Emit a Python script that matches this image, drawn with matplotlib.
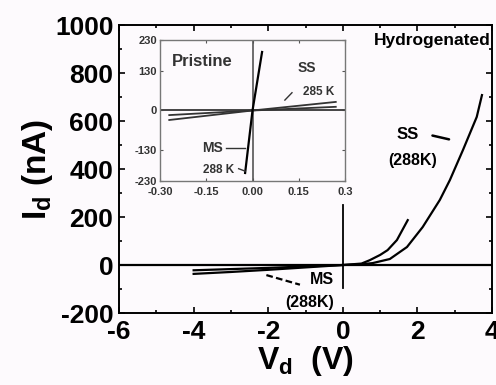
import matplotlib
matplotlib.use("Agg")
import matplotlib.pyplot as plt
from matplotlib.ticker import MultipleLocator, FixedLocator, FixedFormatter

plt.rcParams['font.family'] = ['Liberation Sans', 'DejaVu Sans']
plt.rcParams['font.weight'] = 'bold'
plt.rcParams['axes.unicode_minus'] = False
plt.rcParams['mathtext.fontset'] = 'custom'
plt.rcParams['mathtext.rm'] = 'Liberation Sans:bold'
plt.rcParams['mathtext.bf'] = 'Liberation Sans:bold'
plt.rcParams['mathtext.it'] = 'Liberation Sans:bold'

# ---- main panel data (hydrogenated) ----
ss_v = [-4.0, -3.0, -2.0, -1.0, 0.0, 0.5, 0.8, 1.26, 1.72, 2.14, 2.6, 2.87, 3.22, 3.59, 3.73]
ss_i = [-37, -29, -20, -10, 0, 3, 8, 25, 75, 158, 271, 354, 479, 617, 708]
ms_v = [-4.0, -3.0, -2.0, -1.0, 0.0, 0.5, 0.72, 1.0, 1.2, 1.45, 1.74]
ms_i = [-22, -17, -12, -6, 0, 6, 20, 42, 62, 104, 187]

x_ticks = [-6, -4, -2, 0, 2, 4]
y_ticks = [-200, 0, 200, 400, 600, 800, 1000]

# ---- inset data (pristine) ----
in_ss_v = [-0.27, 0.0, 0.27]
in_ss_i1 = [-31, 0, 28]
in_ss_i2 = [-15, 0, 12]
in_ms_v = [-0.024, 0.0, 0.031]
in_ms_i = [-204, 0, 191]
in_x_ticks = [-0.30, -0.15, 0.0, 0.15, 0.30]
in_x_labels = ["-0.30", "-0.15", "0.00", "0.15", "0.3"]
in_y_ticks = [-230, -130, 0, 130, 230]
in_y_labels = ["-230", "-130", "0", "130", "230"]

bg = '#fdfafd'
fig = plt.figure(figsize=(4.96, 3.85), dpi=100, facecolor=bg)
ax = fig.add_axes([0.240, 0.187, 0.752, 0.748], facecolor=bg)

ax.axhline(0, color='black', lw=1.6, zorder=1)
ax.plot([0, 0], [-95, 250], color='black', lw=1.3)
ax.plot(ss_v, ss_i, color='black', lw=1.6)
ax.plot(ms_v, ms_i, color='black', lw=1.6)

ax.set_xlim(-6, 4)
ax.set_ylim(-200, 1000)
ax.set_xticks(x_ticks)
ax.set_yticks(y_ticks)
ax.xaxis.set_minor_locator(MultipleLocator(1))
ax.yaxis.set_minor_locator(MultipleLocator(100))
ax.tick_params(which='both', direction='in', top=True, right=True, width=1.2)
ax.tick_params(which='major', length=4, labelsize=19, pad=4)
ax.tick_params(axis='x', which='major', pad=5)
ax.tick_params(which='minor', length=2.5)
for lab in ax.get_xticklabels() + ax.get_yticklabels():
    lab.set_fontweight('bold')
for s in ax.spines.values():
    s.set_linewidth(1.4)

ax.set_xlabel(r'V$_\mathrm{d}$  (V)', fontsize=23, fontweight='bold', labelpad=0)
ax.set_ylabel(r'I$_\mathrm{d}$ (nA)', fontsize=24, fontweight='bold', labelpad=0)

ax.text(3.97, 966, 'Hydrogenated', ha='right', va='top', fontsize=12.5, fontweight='bold')
ax.text(1.74, 542, 'SS', ha='center', va='center', fontsize=12, fontweight='bold')
ax.text(1.87, 437, '(288K)', ha='center', va='center', fontsize=11.5, fontweight='bold')
ax.annotate('', xy=(2.92, 521), xytext=(2.33, 542),
            arrowprops=dict(arrowstyle='-', lw=1.8, color='black'))
ax.text(-0.56, -62, 'MS', ha='center', va='center', fontsize=11.5, fontweight='bold')
ax.text(-0.88, -158, '(288K)', ha='center', va='center', fontsize=11.5, fontweight='bold')
ax.plot([-2.05, -1.15], [-42, -82], color='black', lw=1.6, ls=(0, (3, 1.5)))

# ---- inset ----
ins = fig.add_axes([0.3226, 0.530, 0.373, 0.366], facecolor=bg)
ins.axhline(0, color='#444444', lw=1.4)
ins.axvline(0, color='#555555', lw=1.2)
ins.plot(in_ss_v, in_ss_i1, color='#333333', lw=1.3)
ins.plot(in_ss_v, in_ss_i2, color='#333333', lw=1.3)
ins.plot(in_ms_v, in_ms_i, color='black', lw=1.6)
ins.set_xlim(-0.30, 0.30)
ins.set_ylim(-230, 230)
ins.xaxis.set_major_locator(FixedLocator(in_x_ticks))
ins.xaxis.set_major_formatter(FixedFormatter(in_x_labels))
ins.yaxis.set_major_locator(FixedLocator(in_y_ticks))
ins.yaxis.set_major_formatter(FixedFormatter(in_y_labels))
ins.tick_params(axis='x', pad=4)
ins.tick_params(axis='y', pad=2)
ins.tick_params(direction='in', right=True, top=True, length=2.5, width=0.8,
                labelsize=8, colors='#555555', labelcolor='#333333')
for s in ins.spines.values():
    s.set_linewidth(1.0)
    s.set_color('#777777')

ins.text(-0.262, 160, 'Pristine', ha='left', va='center', fontsize=12, fontweight='bold', color='#333333')
ins.text(0.175, 138, 'SS', ha='center', va='center', fontsize=10, fontweight='bold', color='#333333')
ins.text(0.216, 60, '285 K', ha='center', va='center', fontsize=8.5, fontweight='bold', color='#333333')
ins.plot([0.105, 0.128], [34, 58], color='#333333', lw=1.0)
ins.text(-0.13, -123, 'MS', ha='center', va='center', fontsize=10, fontweight='bold', color='#333333')
ins.plot([-0.086, -0.024], [-123, -123], color='#333333', lw=1.0)
ins.text(-0.11, -195, '288 K', ha='center', va='center', fontsize=8.5, fontweight='bold', color='#333333')
ins.plot([-0.045, -0.024], [-190, -198], color='#333333', lw=1.0)

fig.savefig('out.png', dpi=100, facecolor=bg)
